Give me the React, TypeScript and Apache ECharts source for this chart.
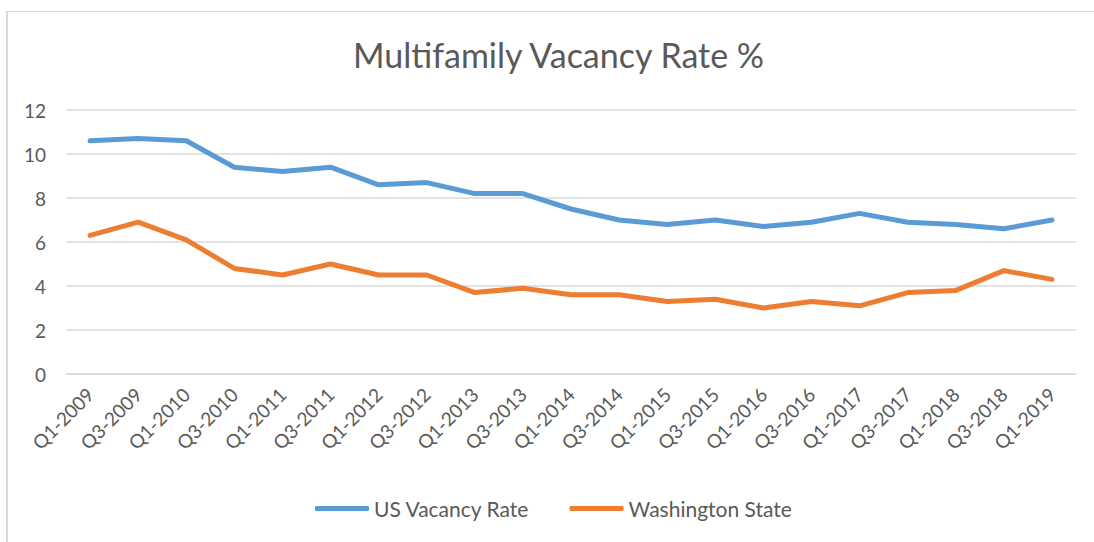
import React, { useEffect, useRef } from "react";
import * as echarts from "echarts";

const categories = [
  "Q1-2009", "Q3-2009", "Q1-2010", "Q3-2010", "Q1-2011", "Q3-2011", "Q1-2012",
  "Q3-2012", "Q1-2013", "Q3-2013", "Q1-2014", "Q3-2014", "Q1-2015", "Q3-2015",
  "Q1-2016", "Q3-2016", "Q1-2017", "Q3-2017", "Q1-2018", "Q3-2018", "Q1-2019",
];
const usVacancy = [10.6, 10.7, 10.6, 9.4, 9.2, 9.4, 8.6, 8.7, 8.2, 8.2, 7.5, 7.0, 6.8, 7.0, 6.7, 6.9, 7.3, 6.9, 6.8, 6.6, 7.0];
const waVacancy = [6.3, 6.9, 6.1, 4.8, 4.5, 5.0, 4.5, 4.5, 3.7, 3.9, 3.6, 3.6, 3.3, 3.4, 3.0, 3.3, 3.1, 3.7, 3.8, 4.7, 4.3];
const seriesNames = ["US Vacancy Rate", "Washington State"];
const titleText = "Multifamily Vacancy Rate %";

const FONT = "Lato, 'Open Sans', sans-serif";
const TEXT = "#595959";

export default function App() {
  const ref = useRef<HTMLDivElement>(null);
  useEffect(() => {
    if (!ref.current) return;
    const chart = echarts.init(ref.current, undefined, { renderer: "svg" });
    chart.setOption({
      animation: false,
      textStyle: { fontFamily: FONT },
      title: {
        text: titleText,
        left: 348,
        top: 32,
        textStyle: { fontFamily: FONT, fontSize: 34, fontWeight: "normal", color: TEXT },
      },
      grid: { left: 66, right: 18, top: 110, bottom: 168 },
      legend: {
        bottom: 18,
        left: 310,
        icon: "roundRect",
        itemWidth: 54,
        itemHeight: 5,
        itemGap: 40,
        textStyle: { fontFamily: FONT, fontSize: 21, color: TEXT },
        data: seriesNames,
      },
      xAxis: {
        type: "category",
        data: categories,
        boundaryGap: true,
        axisLine: { show: true, lineStyle: { color: "#d9d9d9", width: 1 } },
        axisTick: { show: false },
        axisLabel: { rotate: 45, fontSize: 19, color: TEXT, margin: 17, interval: 0, fontFamily: FONT },
      },
      yAxis: {
        type: "value",
        min: 0,
        max: 12,
        interval: 2,
        axisLine: { show: false },
        axisTick: { show: false },
        axisLabel: { fontSize: 19, color: TEXT, margin: 20, fontFamily: FONT },
        splitLine: { lineStyle: { color: "#d9d9d9", width: 1.5 } },
      },
      series: [
        {
          name: seriesNames[0],
          type: "line",
          data: usVacancy,
          showSymbol: false,
          symbol: "none",
          color: "#5b9bd5",
          lineStyle: { width: 5, color: "#5b9bd5", cap: "round", join: "round" },
        },
        {
          name: seriesNames[1],
          type: "line",
          data: waVacancy,
          showSymbol: false,
          symbol: "none",
          color: "#ed7d31",
          lineStyle: { width: 5, color: "#ed7d31", cap: "round", join: "round" },
        },
      ],
    });
    return () => chart.dispose();
  }, []);
  return (
    <div style={{ position: "absolute", left: 0, top: 0, width: 1094, height: 542, background: "#fff" }}>
      <div
        style={{
          position: "absolute",
          left: 6,
          top: 11,
          width: 1088,
          height: 531,
          borderTop: "1px solid #d9d9d9",
          borderLeft: "2px solid #d9d9d9",
          boxSizing: "border-box",
        }}
      />
      <div ref={ref} style={{ position: "absolute", left: 0, top: 0, width: 1094, height: 542 }} />
    </div>
  );
}
